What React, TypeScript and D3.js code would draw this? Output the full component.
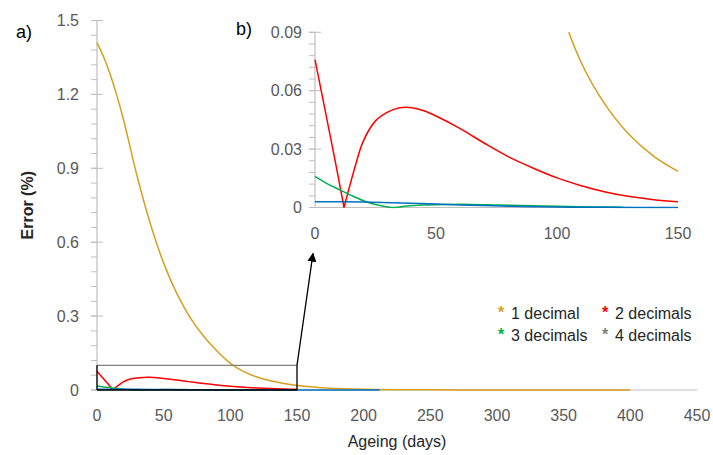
import React from 'react';
import * as d3 from 'd3';

// error curves (%)
const oneDays = [0, 5, 10, 15, 20, 25, 30, 40, 50, 60, 70, 80, 90, 100, 110, 120, 130, 140, 150, 175, 200, 250, 300, 350, 400];
const oneErr = [1.41, 1.352, 1.28, 1.193, 1.095, 0.982, 0.87, 0.675, 0.515, 0.39, 0.293, 0.218, 0.158, 0.108, 0.0745, 0.0527, 0.0372, 0.0263, 0.0186, 0.0075, 0.003, 0.0008, 0.0002, 0.0001, 0];

const twoDays = [0, 4, 8, 12, 16, 20, 25, 30, 35, 40, 45, 50, 60, 70, 80, 90, 100, 110, 120, 130, 140, 150];
const twoErr = [0.076, 0.051, 0.026, 0, 0.0185, 0.0342, 0.0445, 0.049, 0.0512, 0.0513, 0.0497, 0.047, 0.0405, 0.033, 0.026, 0.0203, 0.0152, 0.0112, 0.008, 0.0056, 0.004, 0.003];

const threeDays = [0, 5, 10, 15, 20, 25, 30, 33, 38, 45, 55, 65, 75, 85, 95, 105, 115, 127];
const threeErr = [0.016, 0.0123, 0.0092, 0.0062, 0.0035, 0.0015, 0.0003, 0, 0.0008, 0.0013, 0.0016, 0.0016, 0.0013, 0.001, 0.0008, 0.0005, 0.0003, 0.0001];

const fourDays = [0, 20, 40, 60, 80, 100, 120, 150, 212];
const fourErr = [0.003, 0.0028, 0.0022, 0.0013, 0.0007, 0.0002, 0.0001, 0, 0];

const seriesNames = ['1 decimal', '2 decimals', '3 decimals', '4 decimals'];
const seriesColors = ['#d59f1f', '#ff0000', '#00b050', '#0070c0'];
const legendStarColors = ['#d59f1f', '#ff0000', '#00b050', '#7f7f7f'];

const mainXTicks = [0, 50, 100, 150, 200, 250, 300, 350, 400, 450];
const mainYTicks = ['0', '0.3', '0.6', '0.9', '1.2', '1.5'];
const insetXTicks = [0, 50, 100, 150];
const insetYTicks = ['0', '0.03', '0.06', '0.09'];

const zoomDays = 150;
const zoomErr = 0.1;

const font = '"Liberation Sans", Arial, sans-serif';
const axisGrey = '#bfbfbf';
const labelGrey = '#595959';

const series = [
  { days: oneDays, err: oneErr },
  { days: twoDays, err: twoErr },
  { days: threeDays, err: threeErr },
  { days: fourDays, err: fourErr },
];

type Pt = [number, number];

// split a series at a sharp zero crossing (the V of the red curve) so the
// spline keeps its corner there
function pieces(s: { days: number[]; err: number[] }, maxDay: number): Pt[][] {
  const p: Pt[] = s.days.map((d, i) => [d, s.err[i]] as Pt).filter((q) => q[0] <= maxDay);
  const out: Pt[][] = [];
  let cur: Pt[] = [];
  p.forEach((q, i) => {
    cur.push(q);
    const sharp = i > 0 && i < p.length - 1 && q[1] === 0 && p[i - 1][1] > 0.02;
    if (sharp) {
      out.push(cur);
      cur = [q];
    }
  });
  out.push(cur);
  return out;
}

export default function App() {
  const x = d3.scaleLinear().domain([0, 450]).range([97, 697]);
  const y = d3.scaleLinear().domain([0, 1.5]).range([390, 20.5]);
  const ix = d3.scaleLinear().domain([0, 150]).range([315, 678]);
  const iy = d3.scaleLinear().domain([0, 0.09]).range([207.5, 32.3]);

  const mainLine = d3.line<Pt>()
    .x((d) => x(d[0]))
    .y((d) => y(Math.max(0, d[1])))
    .curve(d3.curveCatmullRom.alpha(0.5));
  const insetLine = d3.line<Pt>()
    .x((d) => ix(d[0]))
    .y((d) => iy(d[1]))
    .curve(d3.curveCatmullRom.alpha(0.5));

  const mainMinor = d3.range(0, 1.5001, 0.06);
  const insetMinor = d3.range(0, 0.0901, 0.006);

  const bx0 = x(0), bx1 = x(zoomDays), by0 = y(0), by1 = y(zoomErr);
  const arrowEnd = [ix(0) - 2, iy(0) + 46];

  return (
    <svg width={713} height={455} style={{ position: 'absolute', left: 0, top: 0, background: '#fff' }} fontFamily={font}>
      <defs>
        <marker id="arrowHead" viewBox="0 0 10 10" refX="9" refY="5" markerWidth="7" markerHeight="7" orient="auto">
          <path d="M0,0 L10,5 L0,10 z" fill="#000" />
        </marker>
        <clipPath id="insetClip">
          <rect x={ix(0) - 2} y={iy(0.09)} width={ix(150) - ix(0) + 4} height={iy(0) - iy(0.09) + 1} />
        </clipPath>
        <clipPath id="mainClip">
          <rect x={x(0) - 2} y={y(1.5)} width={x(450) - x(0) + 4} height={y(0) - y(1.5) + 1} />
        </clipPath>
      </defs>

      {/* main chart axes */}
      <line x1={x(0)} x2={x(0)} y1={y(0)} y2={y(1.5)} stroke={axisGrey} strokeWidth={1.2} />
      {mainMinor.map((v, i) => (
        <line key={'mm' + i} x1={x(0) - 6} x2={x(0)} y1={y(v)} y2={y(v)} stroke={axisGrey} />
      ))}
      {mainYTicks.map((t) => (
        <g key={'my' + t}>
          <line x1={x(0) - 6} x2={x(0) + 6} y1={y(+t)} y2={y(+t)} stroke={axisGrey} />
          <text x={x(0) - 18} y={y(+t)} dy="0.36em" textAnchor="end" fontSize={16} fill={labelGrey}>{t}</text>
        </g>
      ))}
      <line x1={x(0)} x2={x(450)} y1={y(0)} y2={y(0)} stroke={axisGrey} strokeWidth={1.2} />
      {mainXTicks.map((t) => (
        <text key={'mx' + t} x={x(t)} y={421} textAnchor="middle" fontSize={16} fill={labelGrey}>{t}</text>
      ))}
      <text x={x(225)} y={447} textAnchor="middle" fontSize={16} fill="#262626">Ageing (days)</text>
      <text transform={`translate(33, ${y(0.75)}) rotate(-90)`} textAnchor="middle" fontSize={16} fontWeight="bold" fill="#262626">Error (%)</text>
      <text x={16} y={38} fontSize={18} fill="#000">a)</text>

      {/* main curves */}
      <g clipPath="url(#mainClip)">
        {series.map((s, i) =>
          pieces(s, 450).map((seg, j) => (
            <path key={'ml' + i + '-' + j} d={mainLine(seg) || ''} fill="none" stroke={seriesColors[i]} strokeWidth={1.5} />
          ))
        )}
      </g>

      {/* zoom box and arrow */}
      <line x1={bx0} x2={bx1} y1={by1} y2={by1} stroke="#808080" strokeWidth={1.3} />
      <line x1={bx0} x2={bx0} y1={by1} y2={by0} stroke="#000" strokeWidth={1.3} />
      <line x1={bx1} x2={bx1} y1={by1} y2={by0} stroke="#000" strokeWidth={1.3} />
      <line x1={bx0} x2={bx1} y1={by0} y2={by0} stroke="#000" strokeWidth={1.3} />
      <line x1={bx1} y1={by1} x2={arrowEnd[0]} y2={arrowEnd[1]} stroke="#000" strokeWidth={1.3} markerEnd="url(#arrowHead)" />

      {/* inset axes */}
      <line x1={ix(0)} x2={ix(0)} y1={iy(0)} y2={iy(0.09)} stroke={axisGrey} strokeWidth={1.2} />
      {insetMinor.map((v, i) => (
        <line key={'im' + i} x1={ix(0) - 6} x2={ix(0)} y1={iy(v)} y2={iy(v)} stroke={axisGrey} />
      ))}
      {insetYTicks.map((t) => (
        <g key={'iy' + t}>
          <line x1={ix(0) - 6} x2={ix(0) + 6} y1={iy(+t)} y2={iy(+t)} stroke={axisGrey} />
          <text x={ix(0) - 13} y={iy(+t)} dy="0.36em" textAnchor="end" fontSize={16} fill={labelGrey}>{t}</text>
        </g>
      ))}
      <line x1={ix(0)} x2={ix(150)} y1={iy(0)} y2={iy(0)} stroke={axisGrey} strokeWidth={1.2} />
      {insetXTicks.map((t) => (
        <text key={'ix' + t} x={ix(t)} y={239} textAnchor="middle" fontSize={16} fill={labelGrey}>{t}</text>
      ))}
      <text x={236} y={35} fontSize={18} fill="#000">b)</text>

      {/* inset curves */}
      <g clipPath="url(#insetClip)">
        {series.map((s, i) =>
          pieces(s, 150).map((seg, j) => (
            <path key={'il' + i + '-' + j} d={insetLine(seg) || ''} fill="none" stroke={seriesColors[i]} strokeWidth={1.5} />
          ))
        )}
      </g>

      {/* legend */}
      {seriesNames.map((n, i) => {
        const col = i % 2, row = Math.floor(i / 2);
        const lx = 501 + col * 104;
        const ly = 318.5 + row * 22;
        return (
          <g key={'lg' + i}>
            <text x={lx} y={ly - 1} textAnchor="middle" fontSize={16} fontWeight="bold" fill={legendStarColors[i]}>*</text>
            <text x={lx + 10} y={ly} fontSize={16} fill="#262626">{n}</text>
          </g>
        );
      })}
    </svg>
  );
}
